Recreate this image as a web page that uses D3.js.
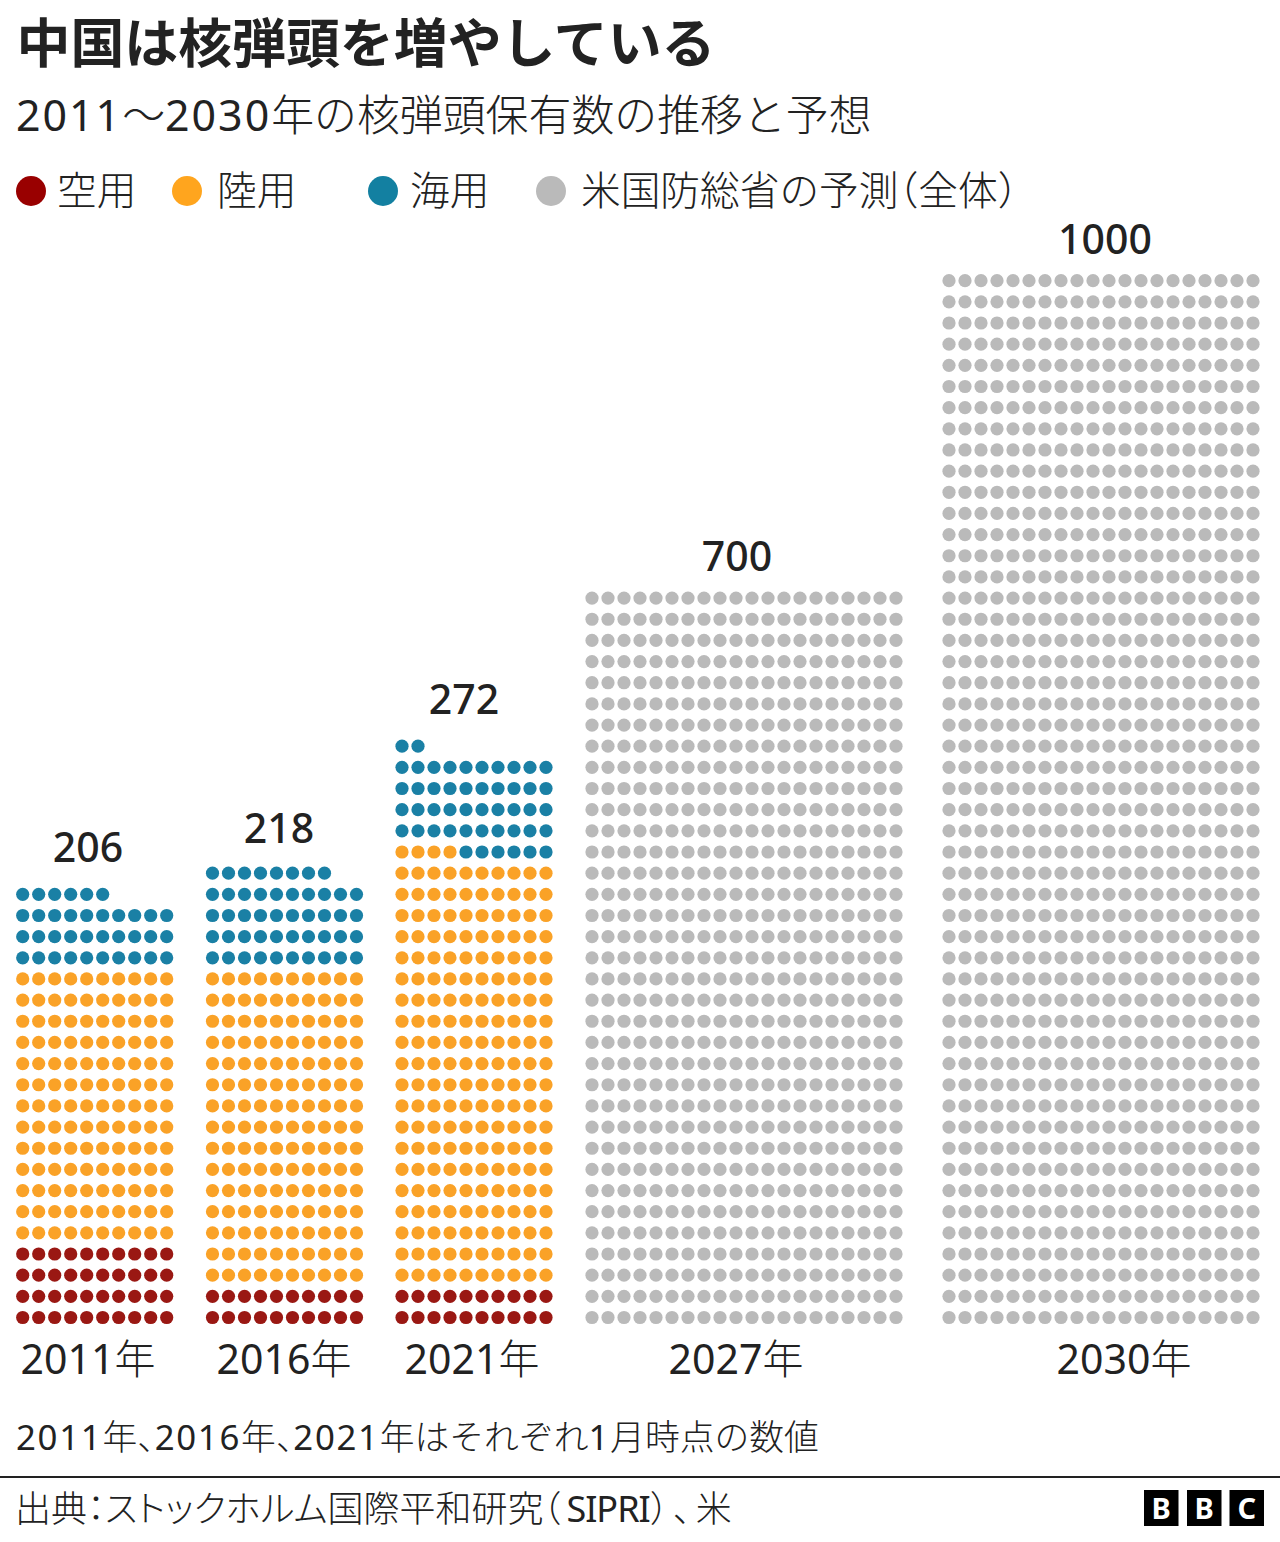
<!DOCTYPE html>
<html lang="ja"><head><meta charset="utf-8">
<script src="https://cdn.jsdelivr.net/npm/d3@7/dist/d3.min.js"></script>
<style>
html,body{margin:0;padding:0;background:#fff}
svg{display:block}
text{font-family:"Noto Sans","Noto Sans CJK JP",sans-serif;fill:#222}
text.body{font-weight:300}
tspan.p{font-feature-settings:"halt"}
tspan.k{font-feature-settings:"palt"}
tspan.d{font-weight:400}
</style></head><body>
<svg id="c" width="1280" height="1542"></svg>
<script>
const years = ["2011年","2016年","2021年","2027年","2030年"];
const airCounts = [40,20,20,0,0];
const landCounts = [130,150,204,0,0];
const seaCounts = [36,48,48,0,0];
const projectedCounts = [0,0,0,700,1000];
const totalLabels = ["206","218","272","700","1000"];
const seriesNames = ["空用","陸用","海用","米国防総省の予測（全体）"];
const titleText = "中国は核弾頭を増やしている";
const subtitleText = "2011～2030年の核弾頭保有数の推移と予想";
const noteText = "2011年、2016年、2021年はそれぞれ1月時点の数値";
const sourceText = "出典：ストックホルム国際平和研究（SIPRI）、米";

// layout (kept apart from the data)
const colours = ["#9a1813","#faa227","#1a80a5","#bababa"];
const legendColours = ["#990000","#ffa51e","#1380a1","#bababa"];
const perRow = [10,10,10,20,20];
const svg = d3.select("#c");
const groupLeft = d3.scaleOrdinal().domain(years).range([22.7,212.5,402,592,949]);
const col = d3.scaleLinear().domain([0,1]).range([0,16]);
const row = d3.scaleLinear().domain([0,49]).range([1317.5,280.7]);
const labelX = d3.scaleOrdinal().domain(years).range([88,279,464,737,1105]);
const labelGap = d3.scaleOrdinal().domain(years).range([32,30,32,27.5,27]);
const yearX = d3.scaleOrdinal().domain(years).range([88,284,472,736,1124]);

// runs: punctuation half width, katakana proportional, Latin and digits regular
function addText(sel,str,opt={}){
  str.split(/([（）、：]+|[ァ-ヶー]+|[0-9A-Za-z]+)/).filter(s=>s).forEach(run=>{
    const t = sel.append("tspan").text(run);
    if(/^[（）、：]/.test(run)){ t.attr("class","p"); if(opt.punct && /[（）]/.test(run)) t.attr("letter-spacing",opt.punct); }
    else if(/^[ァ-ヶー]/.test(run)) t.attr("class","k");
    else if(/^[0-9A-Za-z]/.test(run)){
      t.attr("class","d");
      if(opt.digit && /^[0-9]/.test(run)) t.attr("letter-spacing",opt.digit);
      if(opt.latin && /^[A-Z]/.test(run)) t.attr("letter-spacing",opt.latin);
    }
  });
  return sel;
}

years.forEach((y,i)=>{
  const seq = [];
  [airCounts[i],landCounts[i],seaCounts[i],projectedCounts[i]].forEach((n,s)=>{
    for(let k=0;k<n;k++) seq.push(s);
  });
  svg.append("g").attr("class","bar").selectAll("circle").data(seq).join("circle")
    .attr("cx",(d,k)=>groupLeft(y)+col(k%perRow[i]))
    .attr("cy",(d,k)=>row(Math.floor(k/perRow[i])))
    .attr("r",6.6)
    .attr("fill",d=>colours[d]);
  const topRow = row(Math.floor((seq.length-1)/perRow[i]));
  svg.append("text").attr("x",labelX(y)).attr("y",topRow-labelGap(y))
    .attr("text-anchor","middle").attr("font-size",41).attr("font-weight",500).text(totalLabels[i]);
  addText(svg.append("text").attr("class","body").attr("x",yearX(y)).attr("y",1374)
    .attr("text-anchor","middle").attr("font-size",41),y);
});

svg.append("text").attr("x",16.5).attr("y",63).attr("font-size",53.9).attr("font-weight",700).text(titleText);
addText(svg.append("text").attr("class","body").attr("x",16).attr("y",131).attr("font-size",42.9),subtitleText,{digit:2});

const legendX = d3.scaleOrdinal().domain(seriesNames).range([31,187,383,551]);
const legendTextX = d3.scaleOrdinal().domain(seriesNames).range([57,217,410,581]);
seriesNames.forEach((n,i)=>{
  svg.append("circle").attr("cx",legendX(n)).attr("cy",191).attr("r",15).attr("fill",legendColours[i]);
  addText(svg.append("text").attr("class","body").attr("x",legendTextX(n)).attr("y",205).attr("font-size",39.7),n);
});

addText(svg.append("text").attr("class","body").attr("x",16).attr("y",1450).attr("font-size",34.8),noteText,{digit:1.7});
svg.append("rect").attr("x",0).attr("y",1476).attr("width",1280).attr("height",2).attr("fill","#222");
addText(svg.append("text").attr("class","body").attr("x",15).attr("y",1522).attr("font-size",36),sourceText,{punct:5,latin:-1});

const logoLetters = ["B","B","C"];
const logoX = d3.scaleOrdinal().domain([0,1,2]).range([1144,1187,1229.5]);
logoLetters.forEach((l,i)=>{
  svg.append("rect").attr("x",logoX(i)).attr("y",1490).attr("width",34.5).attr("height",36).attr("fill","#000");
  svg.append("text").attr("x",logoX(i)+17.2).attr("y",1519).attr("text-anchor","middle")
    .attr("font-size",29).attr("font-weight",700).style("fill","#fff").text(l);
});
</script></body></html>
